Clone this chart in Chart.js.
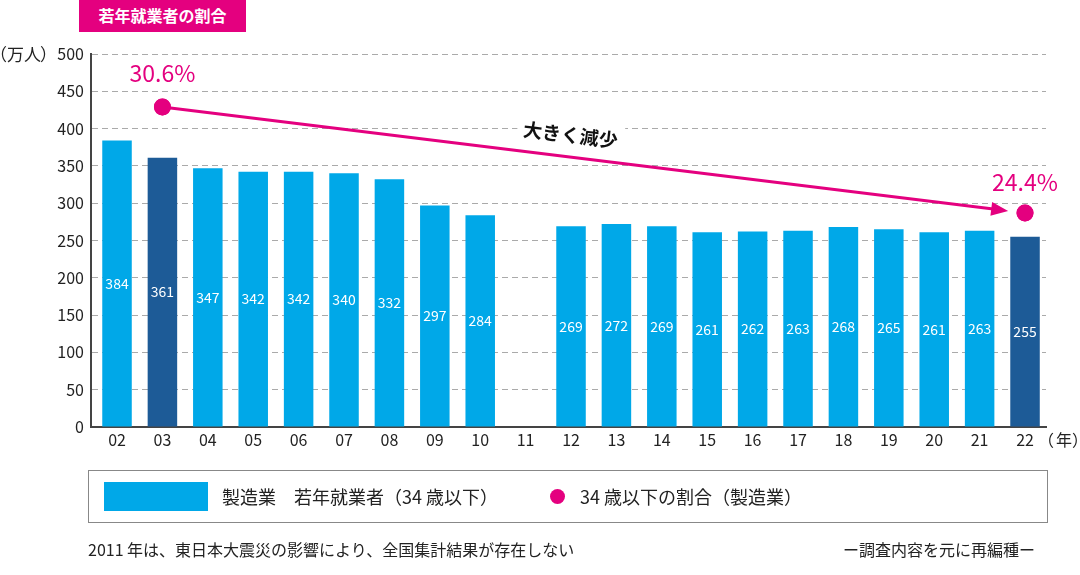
<!DOCTYPE html>
<html>
<head>
<meta charset="utf-8">
<script src="https://cdn.jsdelivr.net/npm/chart.js@4/dist/chart.umd.min.js"></script>
<style>
body{margin:0;background:#fff;font-family:"Noto Sans CJK JP",sans-serif;color:#222;}
#wrap{position:relative;width:1080px;height:575px;overflow:hidden;}
#c{position:absolute;left:0;top:0;}
.title{position:absolute;left:79px;top:0;width:167px;height:32px;background:#e4007f;color:#fff;font-weight:bold;font-size:16px;line-height:31px;text-align:center;}
.legend{position:absolute;left:88px;top:470px;width:958px;height:51px;border:1px solid #888;}
.sw{position:absolute;left:15px;top:11px;width:104px;height:29px;background:#00a8e8;}
.lt{position:absolute;top:11px;font-size:18px;line-height:28px;white-space:nowrap;}
.dot{position:absolute;left:461px;top:18px;width:15px;height:15px;border-radius:50%;background:#e4007f;}
.note{position:absolute;top:538px;font-size:16px;line-height:22px;white-space:nowrap;}
</style>
</head>
<body>
<div id="wrap">
<canvas id="c" width="1080" height="575"></canvas>
<div class="title">若年就業者の割合</div>
<div class="legend">
  <div class="sw"></div>
  <div class="lt" style="left:133px">製造業　若年就業者（34 歳以下）</div>
  <div class="dot"></div>
  <div class="lt" style="left:491px">34 歳以下の割合（製造業）</div>
</div>
<div class="note" style="left:88px">2011 年は、東日本大震災の影響により、全国集計結果が存在しない</div>
<div class="note" style="left:843px">ー調査内容を元に再編種ー</div>
</div>
<script>
// data
const years = ['02','03','04','05','06','07','08','09','10','11','12','13','14','15','16','17','18','19','20','21','22'];
const workers = [384,361,347,342,342,340,332,297,284,null,269,272,269,261,262,263,268,265,261,263,255];
const shareYears = ['03','22'];
const shareValues = [30.6,24.4];
const highlightYears = ['03','22'];
const yTicks = [0,50,100,150,200,250,300,350,400,450,500];

const PINK = '#e4007f';
const BLUE = '#00a8e8';
const DARK = '#1d5b97';

const shareData = years.map(y => {
  const i = shareYears.indexOf(y);
  return i >= 0 ? shareValues[i] : null;
});
const barColors = years.map(y => highlightYears.includes(y) ? DARK : BLUE);

// full-width brackets drawn piece by piece so they sit tight like the original
function bracketText(ctx, parts, xs, y) {
  parts.forEach((p, i) => ctx.fillText(p, xs[i], y));
}

const extras = {
  id: 'extras',
  afterDatasetsDraw(chart) {
    const ctx = chart.ctx;
    const bars = chart.getDatasetMeta(0).data;
    ctx.save();
    // bar values
    ctx.fillStyle = '#fff';
    ctx.font = '14px "Noto Sans CJK JP", sans-serif';
    ctx.textAlign = 'center';
    ctx.textBaseline = 'middle';
    bars.forEach((b, i) => {
      if (workers[i] == null) return;
      ctx.fillText(String(workers[i]), b.x, (b.y + b.base) / 2);
    });

    // arrow between the two share points
    const pts = chart.getDatasetMeta(1).data;
    const a = pts[years.indexOf(shareYears[0])];
    const z = pts[years.indexOf(shareYears[1])];
    const dx = z.x - a.x, dy = z.y - a.y;
    const len = Math.sqrt(dx * dx + dy * dy);
    const ux = dx / len, uy = dy / len;
    const tipX = z.x - ux * 17, tipY = z.y - uy * 17;
    const headL = 17, headW = 7;
    const bx = tipX - ux * headL, by = tipY - uy * headL;
    ctx.strokeStyle = PINK;
    ctx.fillStyle = PINK;
    ctx.lineWidth = 3;
    ctx.beginPath();
    ctx.moveTo(a.x, a.y);
    ctx.lineTo(bx + ux * 2, by + uy * 2);
    ctx.stroke();
    ctx.beginPath();
    ctx.moveTo(tipX, tipY);
    ctx.lineTo(bx - uy * headW, by + ux * headW);
    ctx.lineTo(bx + uy * headW, by - ux * headW);
    ctx.closePath();
    ctx.fill();

    // redraw points on top of the line
    pts.forEach(p => { if (!p.skip) p.draw(ctx); });

    // percent labels
    ctx.font = '23px "Noto Sans CJK JP", sans-serif';
    ctx.fillStyle = PINK;
    ctx.textBaseline = 'middle';
    ctx.fillText(shareValues[0].toFixed(1) + '%', a.x, a.y - 34);
    ctx.fillText(shareValues[1].toFixed(1) + '%', z.x, z.y - 31);

    // "大きく減少" along the arrow
    const t = 0.47;
    const cx = a.x + dx * t + uy * 23;
    const cy = a.y + dy * t - ux * 23;
    ctx.translate(cx, cy);
    ctx.rotate(Math.atan2(dy, dx));
    ctx.font = 'bold 19px "Noto Sans CJK JP", sans-serif';
    const w = ctx.measureText('大きく減少').width;
    ctx.fillStyle = '#fff';
    ctx.fillRect(-w / 2 - 6, -13, w + 12, 26);
    ctx.fillStyle = '#111';
    ctx.fillText('大きく減少', 0, 1);
    ctx.restore();

    // axis unit labels
    ctx.save();
    ctx.fillStyle = '#222';
    ctx.textBaseline = 'middle';
    ctx.textAlign = 'left';
    const ys = chart.scales.y;
    ctx.font = '17px "Noto Sans CJK JP", sans-serif';
    bracketText(ctx, ['（', '万人', '）'], [-10, 7, 40], ys.getPixelForValue(500) + 1);
    ctx.font = '16px "Noto Sans CJK JP", sans-serif';
    bracketText(ctx, ['（', '年', '）'], [1038, 1056, 1072], chart.chartArea.bottom + 13);
    ctx.restore();
  }
};

new Chart(document.getElementById('c'), {
  data: {
    labels: years,
    datasets: [
      {
        type: 'bar',
        data: workers,
        backgroundColor: barColors,
        barPercentage: 0.65,
        categoryPercentage: 1,
        yAxisID: 'y',
        order: 2
      },
      {
        type: 'line',
        data: shareData,
        showLine: false,
        pointRadius: 8.5,
        pointHoverRadius: 8.5,
        pointBackgroundColor: PINK,
        pointBorderWidth: 0,
        yAxisID: 'y2',
        order: 1
      }
    ]
  },
  options: {
    responsive: false,
    animation: false,
    events: [],
    layout: { padding: { left: 0, right: 34, top: 54, bottom: 0 } },
    plugins: { legend: { display: false }, tooltip: { enabled: false } },
    scales: {
      x: {
        grid: { display: false, drawTicks: false },
        border: { display: true, color: '#444', width: 2 },
        ticks: { color: '#222', font: { size: 16, family: '"Noto Sans CJK JP", sans-serif' }, padding: 3, maxRotation: 0, autoSkip: false },
        afterFit(s) { s.height = 148; },
        // the first category sits a little further from the axis than the last one from the edge
        afterBuildTicks(s) { s._startValue = -0.573; s._valueRange = 21.035; }
      },
      y: {
        min: 0, max: 500,
        afterBuildTicks(s) { s.ticks = yTicks.map(v => ({ value: v })); },
        grid: {
          color: c => c.tick && c.tick.value === 0 ? 'rgba(0,0,0,0)' : '#aaa',
          lineWidth: 1,
          drawTicks: false
        },
        border: { display: true, color: '#444', width: 2, dash: [6, 4] },
        ticks: { color: '#222', font: { size: 16, family: '"Noto Sans CJK JP", sans-serif' }, padding: 7 },
        afterFit(s) { s.width = 91; }
      },
      y2: {
        display: false,
        min: 11.88, max: 33.7
      }
    }
  },
  plugins: [extras]
});
</script>
</body>
</html>
